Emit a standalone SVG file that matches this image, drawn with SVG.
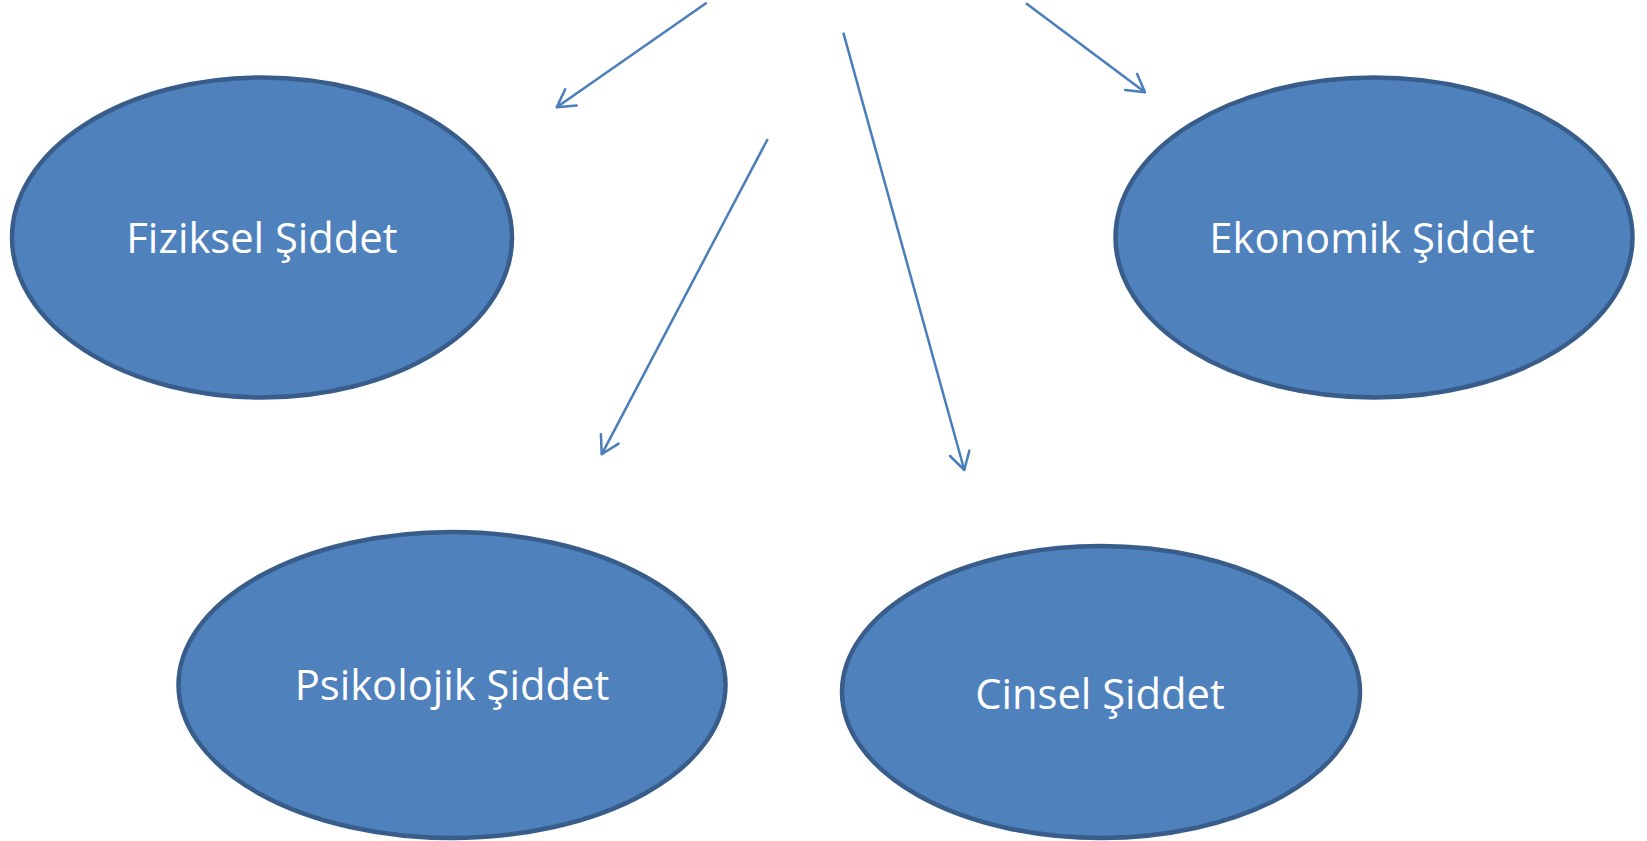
<svg xmlns="http://www.w3.org/2000/svg" width="1647" height="841" viewBox="0 0 1647 841">
<defs>
<style>
.node ellipse{fill:#4F81BD;stroke:#385D8A;stroke-width:4.5}
.node text{fill:#FFFFFF;font-family:"Open Sans","Noto Sans",sans-serif;font-size:41.7px;text-anchor:middle}
.conn line{stroke:#4A7EBB;stroke-width:2.5;fill:none;marker-end:url(#arr)}
</style>
<marker id="arr" markerUnits="userSpaceOnUse" viewBox="-20 -12 22 24" refX="0" refY="0" markerWidth="22" markerHeight="24" orient="auto" overflow="visible">
<path d="M-17.3,-10 L0,0 L-17.3,10" fill="none" stroke="#4A7EBB" stroke-width="2.5" stroke-linecap="round" stroke-linejoin="round"/>
</marker>
</defs>
<rect width="1647" height="841" fill="#FFFFFF"/>
<g id="connectors" class="conn">
<line x1="706.7" y1="2.7" x2="556.7" y2="107.3"/>
<line x1="767.7" y1="139" x2="601.7" y2="454.3"/>
<line x1="843.3" y1="32.7" x2="964.3" y2="470"/>
<line x1="1026" y1="3.3" x2="1145" y2="92.3"/>
</g>
<g id="fiziksel" class="node">
<ellipse cx="262" cy="237.5" rx="250" ry="160"/>
<text x="262" y="253">Fiziksel Şiddet</text>
</g>
<g id="ekonomik" class="node">
<ellipse cx="1374" cy="237.5" rx="258.5" ry="160"/>
<text x="1372" y="253">Ekonomik Şiddet</text>
</g>
<g id="psikolojik" class="node">
<ellipse cx="452" cy="685" rx="273.5" ry="153"/>
<text x="452" y="700">Psikolojik Şiddet</text>
</g>
<g id="cinsel" class="node">
<ellipse cx="1101" cy="692" rx="259" ry="146"/>
<text x="1100" y="709">Cinsel Şiddet</text>
</g>
</svg>
